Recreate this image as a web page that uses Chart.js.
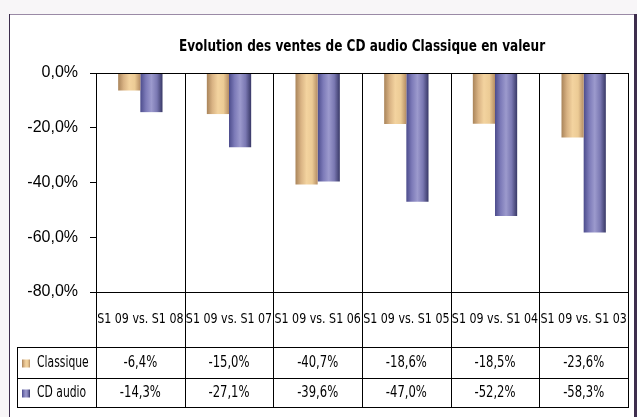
<!DOCTYPE html>
<html>
<head>
<meta charset="utf-8">
<script src="https://cdn.jsdelivr.net/npm/chart.js@4"></script>
<style>
html, body { margin: 0; padding: 0; background: #f8f6f8; }
#wrap { width: 637px; height: 417px; position: relative; }
</style>
</head>
<body>
<div id="wrap"><canvas id="salesChart"></canvas></div>
<script>
const chartTitle = 'Evolution des ventes de CD audio Classique en valeur';
const categories = ['S1 09 vs. S1 08', 'S1 09 vs. S1 07', 'S1 09 vs. S1 06', 'S1 09 vs. S1 05', 'S1 09 vs. S1 04', 'S1 09 vs. S1 03'];
const seriesNames = ['Classique', 'CD audio'];
const classiqueValues = [-6.4, -15.0, -40.7, -18.6, -18.5, -23.6];
const cdAudioValues = [-14.3, -27.1, -39.6, -47.0, -52.2, -58.3];
const yTicks = [0, -20, -40, -60, -80];

const narrow = "'DejaVu Sans Condensed', 'Liberation Sans', sans-serif";
const tanStops = ['#a9845a', '#d9b384', '#f3d39f', '#eccb95', '#b58d64'];
const blueStops = ['#4c4c8c', '#7c7ab8', '#9c9acd', '#7a78b2', '#383866'];

const fmt = v => v.toFixed(1).replace('.', ',') + '%';

// horizontal gradient across each bar (cylinder look)
const barGradient = (stops, side) => (ctx) => {
    const chart = ctx.chart;
    const x = chart.scales.x;
    if (!chart.chartArea || !x || ctx.dataIndex === undefined) return stops[2];
    const center = x.getPixelForValue(ctx.dataIndex);
    const w = x.width / categories.length * 0.25;
    const left = side === 0 ? center - w : center;
    const g = chart.ctx.createLinearGradient(left, 0, left + w, 0);
    stops.forEach((c, i) => g.addColorStop(i / (stops.length - 1), c));
    return g;
};

const swatch = (ctx, stops, x, y, s) => {
    const g = ctx.createLinearGradient(x, 0, x + s, 0);
    stops.forEach((c, i) => g.addColorStop(i / (stops.length - 1), c));
    ctx.fillStyle = g;
    ctx.fillRect(x, y, s, s);
};

// no condensed face installed, so squeeze text horizontally
const squeezed = (ctx, text, x, y, sx) => {
    ctx.save();
    ctx.translate(x, y);
    ctx.scale(sx, 1);
    ctx.fillText(text, 0, 0);
    ctx.restore();
};

const tablePlugin = {
    id: 'dataTable',
    beforeDraw(chart) {
        const { ctx, width, height } = chart;
        ctx.save();
        ctx.fillStyle = '#ffffff';
        ctx.fillRect(9, 15, width - 12, height - 15);
        ctx.fillStyle = '#9a8aa6';
        ctx.fillRect(9, 14, width - 12, 1);
        ctx.fillStyle = '#3e2e4e';
        ctx.fillRect(9, 14, 1, height - 14);
        ctx.fillRect(width - 3, 14, 3, height - 14);
        ctx.restore();
    },
    afterDraw(chart) {
        const { ctx, chartArea: a } = chart;
        const x = chart.scales.x;
        const colW = x.width / categories.length;
        const labelBottom = a.bottom + 55;
        const row1Bottom = a.bottom + 86;
        const row2Bottom = a.bottom + 115;
        const tableLeft = 17;
        const line = (x1, y1, x2, y2) => {
            ctx.beginPath();
            ctx.moveTo(x1, y1);
            ctx.lineTo(x2, y2);
            ctx.stroke();
        };
        ctx.save();
        ctx.strokeStyle = '#000';
        ctx.lineWidth = 1;
        line(a.left, a.top + 0.5, a.right, a.top + 0.5);
        line(a.left, a.bottom + 0.5, a.right, a.bottom + 0.5);
        for (let i = 0; i <= categories.length; i++) {
            const px = Math.round(a.left + i * colW) + 0.5;
            line(px, a.top, px, row2Bottom);
        }
        line(tableLeft + 0.5, labelBottom, tableLeft + 0.5, row2Bottom);
        [labelBottom, row1Bottom, row2Bottom].forEach(y => line(tableLeft, y + 0.5, a.right + 1, y + 0.5));

        const row1Mid = (labelBottom + row1Bottom) / 2 + 1;
        const row2Mid = (row1Bottom + row2Bottom) / 2 + 1;

        ctx.textBaseline = 'middle';
        ctx.textAlign = 'center';
        ctx.fillStyle = '#000';
        ctx.font = `14px ${narrow}`;
        categories.forEach((c, i) => {
            squeezed(ctx, c, x.getPixelForValue(i), (a.bottom + labelBottom) / 2, 0.88);
        });
        ctx.font = `15px ${narrow}`;
        categories.forEach((c, i) => {
            const cx = x.getPixelForValue(i);
            squeezed(ctx, fmt(classiqueValues[i]), cx, row1Mid, 0.86);
            squeezed(ctx, fmt(cdAudioValues[i]), cx, row2Mid, 0.86);
        });

        swatch(ctx, tanStops, 22, row1Mid - 4, 8);
        swatch(ctx, blueStops, 22, row2Mid - 4, 8);
        ctx.fillStyle = '#000';
        ctx.textAlign = 'left';
        ctx.font = `15px ${narrow}`;
        squeezed(ctx, seriesNames[0], 37, row1Mid, 0.8);
        squeezed(ctx, seriesNames[1], 37, row2Mid, 0.8);

        ctx.textAlign = 'center';
        ctx.font = `bold 16px ${narrow}`;
        squeezed(ctx, chartTitle, (a.left + a.right) / 2, 47, 0.84);
        ctx.restore();
    }
};

new Chart(document.getElementById('salesChart'), {
    type: 'bar',
    data: {
        labels: categories,
        datasets: [
            { label: seriesNames[0], data: classiqueValues, backgroundColor: barGradient(tanStops, 0) },
            { label: seriesNames[1], data: cdAudioValues, backgroundColor: barGradient(blueStops, 1) }
        ]
    },
    options: {
        responsive: true,
        maintainAspectRatio: false,
        animation: false,
        categoryPercentage: 0.5,
        barPercentage: 1.0,
        layout: { padding: { left: 0, right: 9, top: 73, bottom: 125 } },
        plugins: {
            legend: { display: false },
            title: { display: false },
            tooltip: { enabled: false }
        },
        scales: {
            x: { display: false },
            y: {
                min: -80,
                max: 0,
                afterBuildTicks: axis => { axis.ticks = yTicks.map(v => ({ value: v })); },
                afterFit: axis => { axis.width = 96; },
                border: { display: true, color: '#000', width: 1 },
                grid: { drawOnChartArea: false, drawTicks: true, tickLength: 6, color: '#000' },
                ticks: { padding: 12, color: '#000', font: { family: "'Liberation Sans', sans-serif", size: 16 }, callback: v => fmt(v) }
            }
        }
    },
    plugins: [tablePlugin]
});
</script>
</body>
</html>
